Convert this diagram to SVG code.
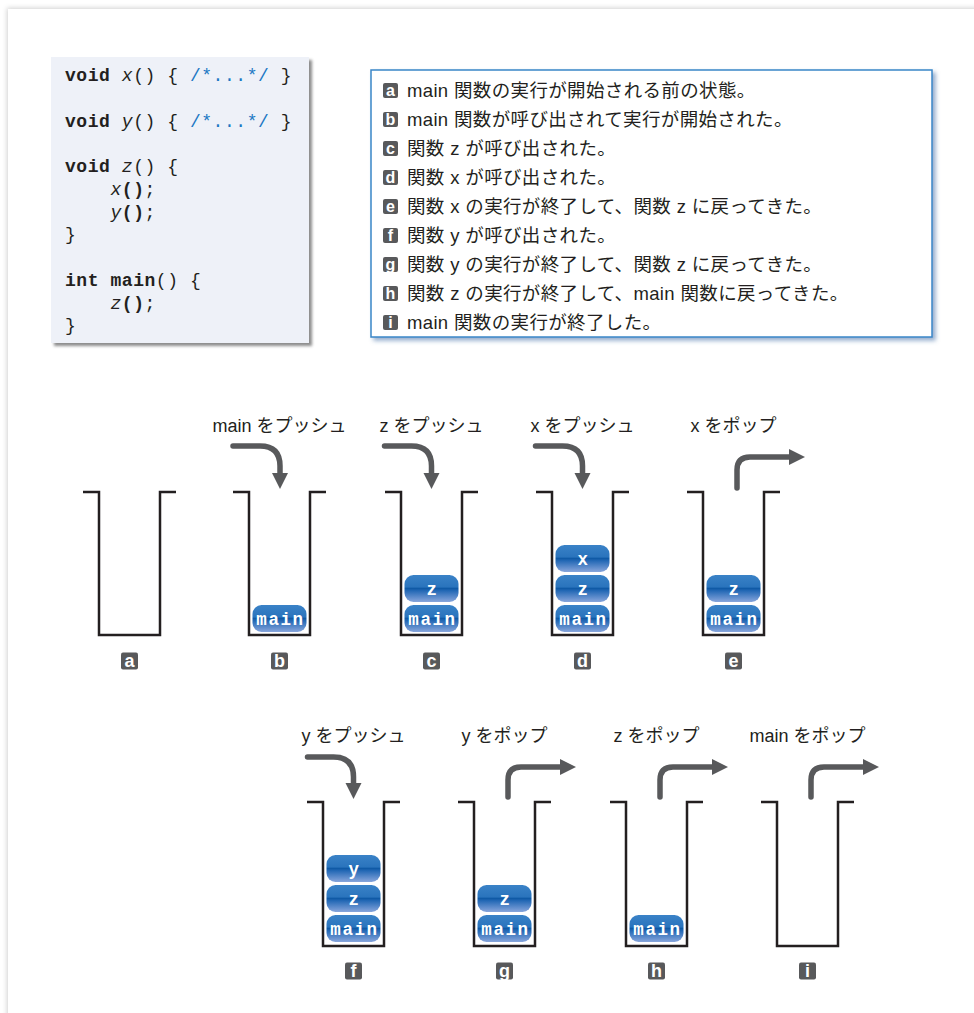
<svg xmlns="http://www.w3.org/2000/svg" width="974" height="1013" viewBox="0 0 974 1013">
<defs>
<filter id="pageShadow" x="-5%" y="-5%" width="110%" height="110%"><feDropShadow dx="-1" dy="-1" stdDeviation="2.5" flood-color="#000" flood-opacity="0.18"/></filter>
<filter id="codeShadow" x="-5%" y="-5%" width="115%" height="115%"><feDropShadow dx="3" dy="3" stdDeviation="1.5" flood-color="#000" flood-opacity="0.45"/></filter>
<filter id="legShadow" x="-5%" y="-5%" width="115%" height="115%"><feDropShadow dx="3" dy="3" stdDeviation="2" flood-color="#4f78ad" flood-opacity="0.6"/></filter>
<linearGradient id="blk" x1="0" y1="0" x2="0" y2="1">
<stop offset="0" stop-color="#3a82c7"/>
<stop offset="0.44" stop-color="#2a74bd"/>
<stop offset="0.5" stop-color="#105aa6"/>
<stop offset="0.58" stop-color="#2368b5"/>
<stop offset="1" stop-color="#88a6dc"/>
</linearGradient>
<marker id="ah" markerUnits="userSpaceOnUse" markerWidth="17" markerHeight="17" refX="0" refY="8" orient="auto" viewBox="0 0 17 16">
<path d="M0,0 L16,8 L0,16 z" fill="#58595b"/>
</marker>
<style>
.code{font-family:"Liberation Mono",monospace;font-size:18px;letter-spacing:0.55px;fill:#231f20}
.b{font-weight:bold}
.i{font-style:italic}
.cm{fill:#1c78c4}
.leg{font-family:"Liberation Sans","Noto Sans CJK JP",sans-serif;font-size:18.5px;letter-spacing:0.35px;fill:#231f20}
.lbl{font-family:"Liberation Sans","Noto Sans CJK JP",sans-serif;font-size:18px;fill:#231f20;text-anchor:middle}
.bdg{fill:#58595b}
.bdt{font-family:"Liberation Sans",sans-serif;font-weight:bold;fill:#fff;text-anchor:middle}
.stk{fill:none;stroke:#231f20;stroke-width:2.5}
.blk{fill:url(#blk)}
.bt{font-family:"Liberation Mono",monospace;font-weight:bold;font-size:17.5px;letter-spacing:1.6px;fill:#fff;text-anchor:middle}
.arr{fill:none;stroke:#58595b;stroke-width:5.5;stroke-linecap:round;marker-end:url(#ah)}
</style>
</defs>
<rect x="0" y="0" width="974" height="1013" fill="#fff"/>
<rect x="8" y="9" width="990" height="1030" fill="#fff" filter="url(#pageShadow)"/>

<g id="code">
<rect x="51" y="57" width="258" height="286" fill="#eef1f8" filter="url(#codeShadow)"/>
<text class="code" xml:space="preserve"><tspan x="65" y="81"><tspan class="b">void</tspan> <tspan class="i">x</tspan>() { <tspan class="cm">/*...*/</tspan> }</tspan><tspan x="65" y="126.5"><tspan class="b">void</tspan> <tspan class="i">y</tspan>() { <tspan class="cm">/*...*/</tspan> }</tspan><tspan x="65" y="172"><tspan class="b">void</tspan> <tspan class="i">z</tspan>() {</tspan><tspan x="110.5" y="195"><tspan class="i">x</tspan><tspan class="b">()</tspan>;</tspan><tspan x="110.5" y="217.5"><tspan class="i">y</tspan><tspan class="b">()</tspan>;</tspan><tspan x="65" y="240">}</tspan><tspan x="65" y="285.5"><tspan class="b">int</tspan> <tspan class="b">main</tspan>() {</tspan><tspan x="110.5" y="308.5"><tspan class="i">z</tspan><tspan class="b">()</tspan>;</tspan><tspan x="65" y="331">}</tspan></text>
</g>

<g id="legend">
<rect x="371" y="70" width="561" height="267" fill="#fff" stroke="#3a86c8" stroke-width="1.5" filter="url(#legShadow)"/>
<g>
<rect class="bdg" x="383" y="83" width="15" height="15" rx="2"/><text class="bdt" x="390.5" y="96" font-size="16">a</text>
<text class="leg" x="407" y="97">main 関数の実行が開始される前の状態。</text>
<rect class="bdg" x="383" y="112" width="15" height="15" rx="2"/><text class="bdt" x="390.5" y="125" font-size="16">b</text>
<text class="leg" x="407" y="126">main 関数が呼び出されて実行が開始された。</text>
<rect class="bdg" x="383" y="141" width="15" height="15" rx="2"/><text class="bdt" x="390.5" y="154" font-size="16">c</text>
<text class="leg" x="407" y="155">関数 z が呼び出された。</text>
<rect class="bdg" x="383" y="170" width="15" height="15" rx="2"/><text class="bdt" x="390.5" y="183" font-size="16">d</text>
<text class="leg" x="407" y="184">関数 x が呼び出された。</text>
<rect class="bdg" x="383" y="199" width="15" height="15" rx="2"/><text class="bdt" x="390.5" y="212" font-size="16">e</text>
<text class="leg" x="407" y="213">関数 x の実行が終了して、関数 z に戻ってきた。</text>
<rect class="bdg" x="383" y="228" width="15" height="15" rx="2"/><text class="bdt" x="390.5" y="241" font-size="16">f</text>
<text class="leg" x="407" y="242">関数 y が呼び出された。</text>
<rect class="bdg" x="383" y="257" width="15" height="15" rx="2"/><text class="bdt" x="390.5" y="270" font-size="16">g</text>
<text class="leg" x="407" y="271">関数 y の実行が終了して、関数 z に戻ってきた。</text>
<rect class="bdg" x="383" y="286" width="15" height="15" rx="2"/><text class="bdt" x="390.5" y="299" font-size="16">h</text>
<text class="leg" x="407" y="300">関数 z の実行が終了して、main 関数に戻ってきた。</text>
<rect class="bdg" x="383" y="315" width="15" height="15" rx="2"/><text class="bdt" x="390.5" y="328" font-size="16">i</text>
<text class="leg" x="407" y="329">main 関数の実行が終了した。</text>
</g>
</g>

<g id="stack-a">
<path class="stk" d="M83,492 H99 V635 H160 V492 H176"/>
<rect class="bdg" x="121" y="652.5" width="17" height="17" rx="2"/><text class="bdt" x="129.5" y="667" font-size="18">a</text>
</g>

<g id="stack-b">
<path class="stk" d="M233,492 H249 V635 H310 V492 H326"/>
<rect class="blk" x="252.5" y="605" width="54" height="27" rx="9"/><text class="bt" x="280.5" y="625">main</text>
<text class="lbl" x="279.5" y="432">main をプッシュ</text>
<rect class="bdg" x="271" y="652.5" width="17" height="17" rx="2"/><text class="bdt" x="279.5" y="667" font-size="18">b</text>
</g>

<g id="stack-c">
<path class="stk" d="M385,492 H401 V635 H462 V492 H478"/>
<rect class="blk" x="404.5" y="575" width="54" height="27" rx="9"/><text class="bt" x="432.5" y="595">z</text>
<rect class="blk" x="404.5" y="605" width="54" height="27" rx="9"/><text class="bt" x="432.5" y="625">main</text>
<text class="lbl" x="431.5" y="432">z をプッシュ</text>
<rect class="bdg" x="423" y="652.5" width="17" height="17" rx="2"/><text class="bdt" x="431.5" y="667" font-size="18">c</text>
</g>

<g id="stack-d">
<path class="stk" d="M536,492 H552 V635 H613 V492 H629"/>
<rect class="blk" x="555.5" y="545" width="54" height="27" rx="9"/><text class="bt" x="583.5" y="565">x</text>
<rect class="blk" x="555.5" y="575" width="54" height="27" rx="9"/><text class="bt" x="583.5" y="595">z</text>
<rect class="blk" x="555.5" y="605" width="54" height="27" rx="9"/><text class="bt" x="583.5" y="625">main</text>
<text class="lbl" x="582.5" y="432">x をプッシュ</text>
<rect class="bdg" x="574" y="652.5" width="17" height="17" rx="2"/><text class="bdt" x="582.5" y="667" font-size="18">d</text>
</g>

<g id="stack-e">
<path class="stk" d="M687,492 H703 V635 H764 V492 H780"/>
<rect class="blk" x="706.5" y="575" width="54" height="27" rx="9"/><text class="bt" x="734.5" y="595">z</text>
<rect class="blk" x="706.5" y="605" width="54" height="27" rx="9"/><text class="bt" x="734.5" y="625">main</text>
<text class="lbl" x="733.5" y="432">x をポップ</text>
<rect class="bdg" x="725" y="652.5" width="17" height="17" rx="2"/><text class="bdt" x="733.5" y="667" font-size="18">e</text>
</g>

<g id="stack-f">
<path class="stk" d="M307,802 H323 V946 H384 V802 H400"/>
<rect class="blk" x="326.5" y="855" width="54" height="27" rx="9"/><text class="bt" x="354.5" y="875">y</text>
<rect class="blk" x="326.5" y="885" width="54" height="27" rx="9"/><text class="bt" x="354.5" y="905">z</text>
<rect class="blk" x="326.5" y="915" width="54" height="27" rx="9"/><text class="bt" x="354.5" y="935">main</text>
<text class="lbl" x="353.5" y="742">y をプッシュ</text>
<rect class="bdg" x="345" y="962.5" width="17" height="17" rx="2"/><text class="bdt" x="353.5" y="977" font-size="18">f</text>
</g>

<g id="stack-g">
<path class="stk" d="M458,802 H474 V946 H535 V802 H551"/>
<rect class="blk" x="477.5" y="885" width="54" height="27" rx="9"/><text class="bt" x="505.5" y="905">z</text>
<rect class="blk" x="477.5" y="915" width="54" height="27" rx="9"/><text class="bt" x="505.5" y="935">main</text>
<text class="lbl" x="504.5" y="742">y をポップ</text>
<rect class="bdg" x="496" y="962.5" width="17" height="17" rx="2"/><text class="bdt" x="504.5" y="977" font-size="18">g</text>
</g>

<g id="stack-h">
<path class="stk" d="M610,802 H626 V946 H687 V802 H703"/>
<rect class="blk" x="629.5" y="915" width="54" height="27" rx="9"/><text class="bt" x="657.5" y="935">main</text>
<text class="lbl" x="656.5" y="742">z をポップ</text>
<rect class="bdg" x="648" y="962.5" width="17" height="17" rx="2"/><text class="bdt" x="656.5" y="977" font-size="18">h</text>
</g>

<g id="stack-i">
<path class="stk" d="M761,802 H777 V946 H838 V802 H854"/>
<text class="lbl" x="807.5" y="742">main をポップ</text>
<rect class="bdg" x="799" y="962.5" width="17" height="17" rx="2"/><text class="bdt" x="807.5" y="977" font-size="18">i</text>
</g>

<g id="connectors">
<path class="arr" d="M233,446 H260 Q280,446 280,466 V473"/>
<path class="arr" d="M384.5,446 H411.5 Q431.5,446 431.5,466 V473"/>
<path class="arr" d="M535.5,446 H562.5 Q582.5,446 582.5,466 V473"/>
<path class="arr" d="M737,488 V470 Q737,457 750,457 H789"/>
<path class="arr" d="M307.5,757 H333.5 Q353.5,757 353.5,777 V783"/>
<path class="arr" d="M508,797 V780 Q508,767 521,767 H560"/>
<path class="arr" d="M660,797 V780 Q660,767 673,767 H712"/>
<path class="arr" d="M811,797 V780 Q811,767 824,767 H863"/>
</g>
</svg>
